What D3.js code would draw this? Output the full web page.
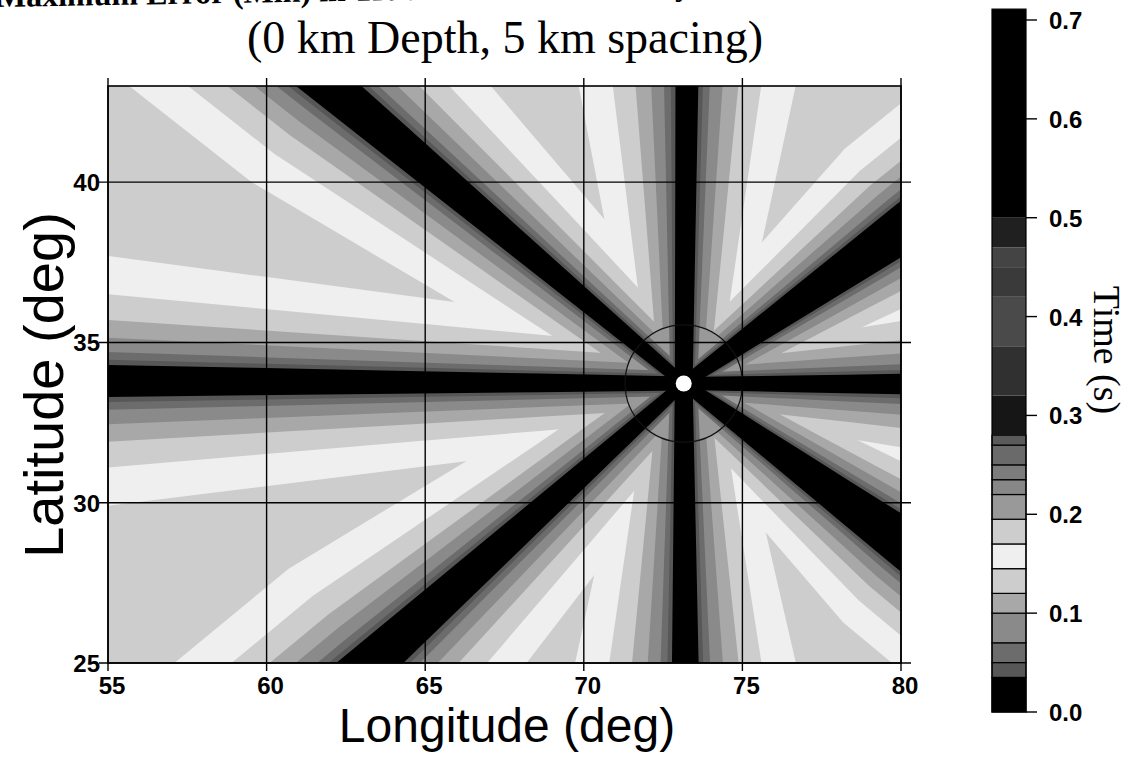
<!DOCTYPE html>
<html>
<head>
<meta charset="utf-8">
<script src="https://cdn.jsdelivr.net/npm/d3@7"></script>
<style>
  body { margin: 0; background: #fff; }
  svg { display: block; }
  .tick-label { font-family: 'Liberation Sans', Arial, sans-serif; font-weight: bold; font-size: 24px; fill: #000; }
  .axis-title { font-family: 'Liberation Sans', Arial, sans-serif; fill: #000; }
  .serif-title { font-family: 'Liberation Serif', 'Times New Roman', serif; fill: #000; }
</style>
</head>
<body>
<svg id="chart" width="1133" height="757"></svg>
<script>

// -------------------------------------------------------------------------
// Data

const lonTicks = [55, 60, 65, 70, 75, 80];
const latTicks = [25, 30, 35, 40];
const barTicks = [0.0, 0.1, 0.2, 0.3, 0.4, 0.5, 0.6, 0.7];

// event location (white dot)
const epicentre = [73.15, 33.72];

// the eight low-time rays leaving the event
const rayNames    = ['W', 'E', 'N', 'S', 'NW', 'SW', 'NE', 'SE'];
const rayEndLon   = [55.0, 80.0, 73.25, 73.2, 62.0, 63.3, 80.0, 80.0];
const rayEndLat   = [33.8, 33.7, 43.0, 25.0, 43.0, 25.0, 38.5, 28.8];
const rayCoreNear = [0.22, 0.20, 0.28, 0.28, 0.18, 0.18, 0.18, 0.18];   // black half width at the event (deg)
const rayCoreFar  = [0.50, 0.32, 0.36, 0.42, 0.66, 0.70, 0.72, 0.74];   // black half width at plot edge (deg)
const rayHalo     = [1.0, 0.75, 0.9, 0.9, 0.95, 0.95, 0.7, 0.7];        // relative width of the grey halo

// cross-section of a ray: time reached at each distance beyond the black core (deg)
const bandTopTime = [0.17, 0.145, 0.12, 0.10, 0.07, 0.05, 0.035];
const bandReach   = [3.4, 2.2, 1.4, 0.85, 0.4, 0.16, 0.0];

const backgroundTime = 0.18;   // far from all rays
const ringTime = 0.21;         // inside the ring round the event
const ringRadius = 1.85;       // deg

// colour table of the scale bar
const colorBreaks = [0.035, 0.05, 0.07, 0.10, 0.12, 0.145, 0.17, 0.195, 0.22, 0.235,
                     0.25, 0.27, 0.28, 0.32, 0.37, 0.42, 0.45, 0.47, 0.50];
const colorGrays  = ['#000000', '#575757', '#6c6c6c', '#8a8a8a', '#a8a8a8', '#cdcdcd', '#efefef',
                     '#cdcdcd', '#999999', '#878787', '#7c7c7c', '#6a6a6a', '#5a5a5a', '#161616',
                     '#303030', '#4a4a4a', '#3a3a3a', '#444444', '#202020', '#000000'];
const barTop = 0.711;
const barOutlinedBelow = 0.28;

// -------------------------------------------------------------------------
// Scales

const x = d3.scaleLinear().domain([55, 80]).range([108, 901]);
const y = d3.scaleLinear().domain([25, 43]).range([663, 86]);
const color = d3.scaleThreshold().domain(colorBreaks).range(colorGrays);
const barY = d3.scaleLinear().domain([0, 0.7]).range([712, 20]);

const haloTaper = 0.4;

const svg = d3.select('#chart');

// first title line, mostly cut off by the page edge
svg.append('text')
  .attr('class', 'serif-title')
  .attr('x', -4).attr('y', 7)
  .attr('transform', 'rotate(-1, 0, 7)')
  .style('font-size', '32px')
  .style('font-weight', 'bold')
  .text('Maximum Error (Min) in Travel Time Uncertainty');

svg.append('text')
  .attr('class', 'serif-title')
  .attr('x', 505).attr('y', 53)
  .attr('text-anchor', 'middle')
  .style('font-size', '46px')
  .text('(0 km Depth, 5 km spacing)');

// -------------------------------------------------------------------------
// Map

svg.append('clipPath').attr('id', 'plot-clip')
  .append('rect')
  .attr('x', x(55)).attr('y', y(43))
  .attr('width', x(80) - x(55)).attr('height', y(25) - y(43));

const map = svg.append('g').attr('clip-path', 'url(#plot-clip)');

map.append('rect')
  .attr('x', x(55)).attr('y', y(43))
  .attr('width', x(80) - x(55)).attr('height', y(25) - y(43))
  .attr('fill', color(backgroundTime));

const rays = rayNames.map((name, i) => ({
  name: name,
  end: [rayEndLon[i], rayEndLat[i]],
  coreNear: rayCoreNear[i],
  coreFar: rayCoreFar[i],
  halo: rayHalo[i]
}));

function rayOutline(ray, reach) {
  const lon0 = epicentre[0], lat0 = epicentre[1];
  const dx = ray.end[0] - lon0, dy = ray.end[1] - lat0;
  const len = Math.hypot(dx, dy);
  const nx = -dy / len, ny = dx / len;
  const half = t => ray.coreNear + (ray.coreFar - ray.coreNear) * t +
    reach * ray.halo * (haloTaper + (1 - haloTaper) * Math.min(t, 1));
  const ts = [0, 0.25, 0.5, 0.75, 1, 1.6];
  const left = ts.map(t => [lon0 + dx * t + nx * half(t), lat0 + dy * t + ny * half(t)]);
  const right = ts.slice().reverse().map(t => [lon0 + dx * t - nx * half(t), lat0 + dy * t - ny * half(t)]);
  return left.concat(right);
}

const outline = d3.line()
  .x(d => x(d[0]))
  .y(d => y(d[1]))
  .curve(d3.curveLinearClosed);

const bands = bandTopTime.map((t, i) => ({ time: t - 0.001, reach: bandReach[i] }));

function drawBands(list) {
  list.forEach(band => {
    map.append('g')
      .selectAll('path')
      .data(rays)
      .enter()
      .append('path')
      .attr('d', d => outline(rayOutline(d, band.reach)))
      .attr('fill', color(band.time));
  });
}

// light halos first, then the ring, then the dark cores on top
drawBands(bands.filter(b => b.time >= 0.07));

const ringR = x(epicentre[0] + ringRadius) - x(epicentre[0]);
map.append('circle')
  .attr('cx', x(epicentre[0])).attr('cy', y(epicentre[1]))
  .attr('r', ringR)
  .attr('fill', color(ringTime));

drawBands(bands.filter(b => b.time < 0.07));

map.append('circle')
  .attr('cx', x(epicentre[0])).attr('cy', y(epicentre[1]))
  .attr('r', ringR)
  .attr('fill', 'none')
  .attr('stroke', '#111')
  .attr('stroke-width', 1.2);

map.append('circle')
  .attr('cx', x(epicentre[0])).attr('cy', y(epicentre[1]))
  .attr('r', 8)
  .attr('fill', '#fff');

// grid, ticks and frame
const grid = svg.append('g').attr('stroke', '#000').attr('stroke-width', 1.4);
grid.selectAll('.vgrid')
  .data(lonTicks)
  .enter()
  .append('line')
  .attr('x1', d => x(d)).attr('x2', d => x(d))
  .attr('y1', y(43) - 8).attr('y2', y(25) + 8);
grid.selectAll('.hgrid')
  .data(latTicks)
  .enter()
  .append('line')
  .attr('x1', x(55) - 9).attr('x2', x(80) + 10)
  .attr('y1', d => y(d)).attr('y2', d => y(d));
svg.append('rect')
  .attr('x', x(55)).attr('y', y(43))
  .attr('width', x(80) - x(55)).attr('height', y(25) - y(43))
  .attr('fill', 'none')
  .attr('stroke', '#000')
  .attr('stroke-width', 1.6);

svg.append('g').selectAll('text')
  .data(lonTicks)
  .enter()
  .append('text')
  .attr('class', 'tick-label')
  .attr('x', d => x(d) + 4)
  .attr('y', 693.5)
  .attr('text-anchor', 'middle')
  .text(d => d);

svg.append('g').selectAll('text')
  .data(latTicks)
  .enter()
  .append('text')
  .attr('class', 'tick-label')
  .attr('x', 100)
  .attr('y', d => y(d) + 9)
  .attr('text-anchor', 'end')
  .text(d => d);

svg.append('text')
  .attr('class', 'axis-title')
  .attr('x', 507).attr('y', 742)
  .attr('text-anchor', 'middle')
  .style('font-size', '48px')
  .text('Longitude (deg)');

svg.append('text')
  .attr('class', 'axis-title')
  .attr('transform', 'translate(63, 385) rotate(-90)')
  .attr('text-anchor', 'middle')
  .style('font-size', '56px')
  .text('Latitude (deg)');

// -------------------------------------------------------------------------
// Scale bar

const barX = 992, barW = 34;
const edges = [0].concat(colorBreaks, [barTop]);
const segments = d3.range(edges.length - 1).map(i => ({ lo: edges[i], hi: edges[i + 1] }));

const bar = svg.append('g');
bar.selectAll('rect')
  .data(segments)
  .enter()
  .append('rect')
  .attr('x', barX)
  .attr('y', d => barY(d.hi))
  .attr('width', barW)
  .attr('height', d => barY(d.lo) - barY(d.hi))
  .attr('fill', d => color((d.lo + d.hi) / 2))
  .attr('stroke', d => d.hi <= barOutlinedBelow ? '#000' : 'none')
  .attr('stroke-width', 1.2);

bar.append('rect')
  .attr('x', barX).attr('y', barY(barTop))
  .attr('width', barW).attr('height', barY(0) - barY(barTop))
  .attr('fill', 'none')
  .attr('stroke', '#000')
  .attr('stroke-width', 1.2);

bar.selectAll('line')
  .data(barTicks)
  .enter()
  .append('line')
  .attr('x1', barX + barW).attr('x2', barX + barW + 11)
  .attr('y1', d => barY(d)).attr('y2', d => barY(d))
  .attr('stroke', '#000')
  .attr('stroke-width', 1.4);

bar.selectAll('text')
  .data(barTicks)
  .enter()
  .append('text')
  .attr('class', 'tick-label')
  .attr('x', barX + barW + 23)
  .attr('y', d => barY(d) + 9)
  .text(d => d.toFixed(1));

svg.append('text')
  .attr('class', 'serif-title')
  .attr('transform', 'translate(1094, 350) rotate(90)')
  .attr('text-anchor', 'middle')
  .style('font-size', '38px')
  .text('Time (s)');

</script>
</body>
</html>
